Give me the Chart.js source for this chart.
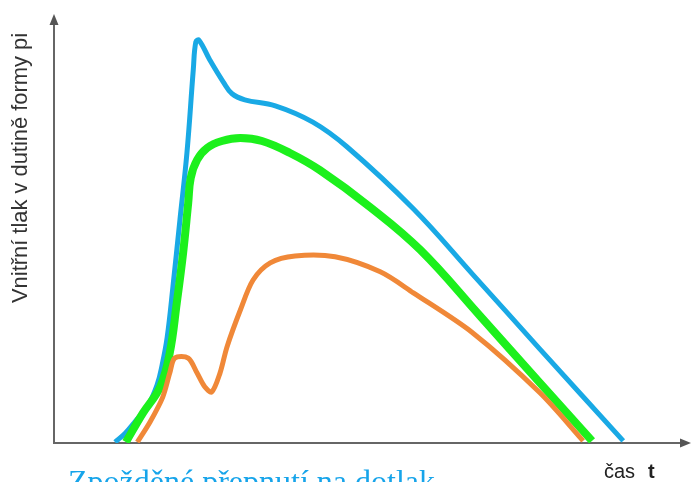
<!DOCTYPE html>
<html>
<head>
<meta charset="utf-8">
<script src="https://cdn.jsdelivr.net/npm/chart.js@4.4.1/dist/chart.umd.min.js"></script>
<style>
html,body{margin:0;padding:0;background:#fff;overflow:hidden;}
#wrap{width:691px;height:482px;}
</style>
</head>
<body>
<div id="wrap"><canvas id="c" width="691" height="482"></canvas></div>
<script>
// Time (arbitrary units 0-100) and cavity pressure (arbitrary units 0-100)
const blueT = [9.6,11.2,12.7,14.8,16.2,17.0,17.8,18.7,19.8,20.9,21.9,22.3,22.8,24.5,26.6,28.0,30.0,34.8,40.7,46.1,56.5,65.9,76.4,89.5];
const blueP = [0.2,2.3,4.9,8.9,13.5,18.2,24.7,36.4,52.0,67.6,87.0,93.5,93.9,89.3,84.2,81.4,80.0,78.6,74.8,69.0,54.6,39.2,21.9,0.5];

const greenT = [11.3,14.0,16.7,18.2,19.3,20.3,21.1,21.5,22.5,24.1,26.4,29.3,32.7,37.1,41.8,49.7,57.6,67.0,76.4,84.6];
const greenP = [0.2,7.0,13.1,21.0,32.6,44.3,55.9,61.8,66.0,68.8,70.4,71.1,70.4,67.6,63.6,55.0,45.0,29.6,14.0,0.5];

const orangeT = [13.1,15.1,17.1,18.2,19.0,21.1,22.5,23.7,24.8,26.1,27.2,29.3,31.3,34.0,37.9,44.2,51.3,56.5,65.9,76.4,83.2];
const orangeP = [0.2,4.9,10.7,16.3,19.8,19.8,16.3,13.1,11.9,16.3,22.4,31.0,38.0,42.0,43.6,43.4,39.9,35.0,25.6,11.7,0.5];

const yTitle = "Vnitřní tlak v dutině formy pi";
const xTitleMain = "čas";
const xTitleSym = "t";
const caption = "Zpožděné přepnutí na dotlak";

function pts(t, p){ return t.map((v,i)=>({x:v, y:p[i]})); }

const decor = {
  id:'decor',
  beforeDatasetsDraw(chart){
    const ctx = chart.ctx, a = chart.chartArea;
    ctx.save();
    ctx.strokeStyle = '#666'; ctx.fillStyle = '#555'; ctx.lineWidth = 2;
    ctx.beginPath();
    ctx.moveTo(a.left, a.top + 8); ctx.lineTo(a.left, a.bottom);
    ctx.lineTo(a.right - 6, a.bottom);
    ctx.stroke();
    ctx.beginPath();
    ctx.moveTo(a.left, a.top); ctx.lineTo(a.left - 4.5, a.top + 11); ctx.lineTo(a.left + 4.5, a.top + 11); ctx.closePath(); ctx.fill();
    ctx.beginPath();
    ctx.moveTo(a.right + 1, a.bottom); ctx.lineTo(a.right - 10, a.bottom - 4.5); ctx.lineTo(a.right - 10, a.bottom + 4.5); ctx.closePath(); ctx.fill();
    ctx.restore();
  },
  afterDraw(chart){
    const ctx = chart.ctx;
    ctx.save();
    ctx.fillStyle = '#333';
    ctx.font = '20px "Liberation Sans", Arial, sans-serif';
    const w = ctx.measureText(yTitle).width;
    const fs = Math.min(22, 20 * 270 / w);
    ctx.font = fs.toFixed(1) + 'px "Liberation Sans", Arial, sans-serif';
    ctx.translate(27, 303);
    ctx.rotate(-Math.PI/2);
    ctx.textAlign = 'left'; ctx.textBaseline = 'alphabetic';
    ctx.fillText(yTitle, 0, 0);
    ctx.restore();
    ctx.save();
    ctx.fillStyle = '#222';
    ctx.textBaseline = 'alphabetic'; ctx.textAlign = 'left';
    ctx.font = '20px "Liberation Sans", Arial, sans-serif';
    ctx.fillText(xTitleMain, 604, 478);
    ctx.font = 'bold 20px "Liberation Sans", Arial, sans-serif';
    ctx.fillText(xTitleSym, 648, 478);
    ctx.fillStyle = '#16a4ea';
    ctx.font = '32px "Liberation Serif", "Times New Roman", serif';
    ctx.fillText(caption, 68, 492);
    ctx.restore();
  }
};

new Chart(document.getElementById('c'), {
  type:'line',
  data:{
    datasets:[
      {label:'A', data:pts(blueT, blueP), borderColor:'#19a9e5', borderWidth:5, order:3, tension:0.4},
      {label:'B', data:pts(greenT, greenP), borderColor:'#1cf01c', borderWidth:8, order:2, tension:0.4},
      {label:'C', data:pts(orangeT, orangeP), borderColor:'#f08838', borderWidth:5, order:1, tension:0.3}
    ]
  },
  options:{
    responsive:false,
    animation:false,
    devicePixelRatio:1,
    layout:{padding:{left:54, top:14, right:1, bottom:39}},
    elements:{
      point:{radius:0, hoverRadius:0},
      line:{borderCapStyle:'butt', borderJoinStyle:'round', fill:false}
    },
    scales:{
      x:{type:'linear', min:0, max:100, display:false},
      y:{type:'linear', min:0, max:100, display:false}
    },
    plugins:{legend:{display:false}, tooltip:{enabled:false}, title:{display:false}}
  },
  plugins:[decor]
});
</script>
</body>
</html>
